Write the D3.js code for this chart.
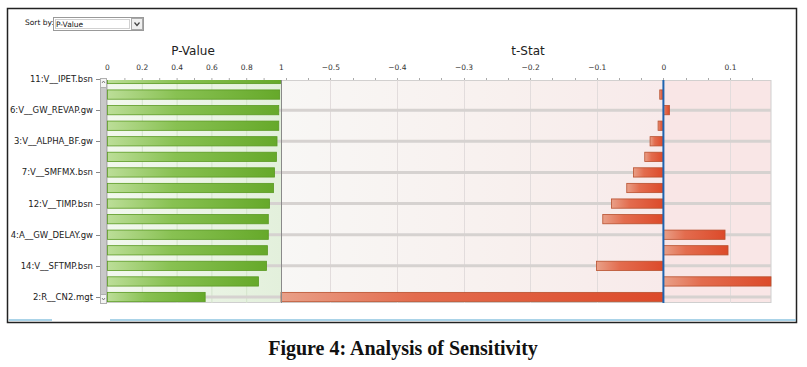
<!DOCTYPE html>
<html>
<head>
<meta charset="utf-8">
<script src="https://cdn.jsdelivr.net/npm/d3@7"></script>
<style>
  body { margin: 0; background: #fff; }
  svg text { font-family: "DejaVu Sans", sans-serif; }
</style>
</head>
<body>
<div id="chart"></div>
<script>
// rows, top to bottom (only every other row carries a label in the original)
var rowLabels = ["11:V__IPET.bsn", "", "6:V__GW_REVAP.gw", "", "3:V__ALPHA_BF.gw", "",
  "7:V__SMFMX.bsn", "", "12:V__TIMP.bsn", "", "4:A__GW_DELAY.gw", "",
  "14:V__SFTMP.bsn", "", "2:R__CN2.mgt"];
var pValues = [1.0, 0.995, 0.99, 0.99, 0.98, 0.977, 0.966, 0.96, 0.937, 0.93, 0.93, 0.925, 0.92, 0.874, 0.567];
var tStats = [0.0, -0.0055, 0.009, -0.008, -0.02, -0.028, -0.045, -0.055, -0.078, -0.091, 0.0925, 0.097, -0.1005, 0.1615, -0.574];
var pTicks = [0, 0.2, 0.4, 0.6, 0.8, 1];
var tTicks = [-0.5, -0.4, -0.3, -0.2, -0.1, 0, 0.1];

var W = 807, H = 367;
var plotTop = 80, plotBottom = 303;

var svg = d3.select("#chart").append("svg")
  .attr("width", W).attr("height", H);

var defs = svg.append("defs");
function grad(id, stops) {
  var g = defs.append("linearGradient").attr("id", id)
    .attr("x1", 0).attr("y1", 0).attr("x2", 1).attr("y2", 0);
  stops.forEach(function(s) {
    g.append("stop").attr("offset", s[0]).attr("stop-color", s[1]);
  });
}
grad("gBar", [[0, "#bcde98"], [0.4, "#88c152"], [1, "#66a92a"]]);
grad("rBar", [[0, "#e9a088"], [0.35, "#e36c4e"], [1, "#dc4a2a"]]);
grad("gBg", [[0, "#f2f8ee"], [1, "#e3f0dc"]]);
grad("tBg", [[0, "#f8f7f5"], [0.6, "#f8f0ee"], [1, "#f8eaea"]]);
defs.append("clipPath").attr("id", "plotClip").append("rect")
  .attr("x", 100).attr("y", plotTop).attr("width", 680).attr("height", plotBottom - plotTop);

// scales
var xP = d3.scaleLinear().domain([0, 1]).range([107, 281]);
var xT = d3.scaleLinear().domain([-0.574, 0.1615]).range([281, 771]);
var y = d3.scaleBand().domain(d3.range(rowLabels.length))
  .range([71.2, 304.8]).paddingInner(0.34).paddingOuter(0.17);
var yc = function(i) { return y(i) + y.bandwidth() / 2; };

// window frame
svg.append("rect").attr("x", 7.5).attr("y", 8.5).attr("width", 789).attr("height", 314)
  .attr("fill", "#fff").attr("stroke", "#222").attr("stroke-width", 1.5);
svg.append("line").attr("x1", 9).attr("x2", 52).attr("y1", 320).attr("y2", 320)
  .attr("stroke", "#8ec4e0").attr("stroke-width", 1.5);
svg.append("line").attr("x1", 110).attr("x2", 796).attr("y1", 320).attr("y2", 320)
  .attr("stroke", "#8ec4e0").attr("stroke-width", 1.5);

// sort by dropdown
svg.append("text").attr("x", 25).attr("y", 25).attr("font-size", 7.5).attr("fill", "#111").text("Sort by:");
svg.append("rect").attr("x", 53.5).attr("y", 17.5).attr("width", 90).attr("height", 13)
  .attr("fill", "#fff").attr("stroke", "#999");
svg.append("rect").attr("x", 55.5).attr("y", 19.5).attr("width", 74).attr("height", 9)
  .attr("fill", "none").attr("stroke", "#666").attr("stroke-dasharray", "1,1").attr("stroke-width", 0.6);
svg.append("text").attr("x", 56).attr("y", 27).attr("font-size", 7.5).attr("fill", "#111").text("P-Value");
svg.append("rect").attr("x", 131.5).attr("y", 18.5).attr("width", 11).attr("height", 11)
  .attr("fill", "#f0f0f0").attr("stroke", "#aaa");
svg.append("path").attr("d", "M134.5,22.5 L137,25.5 L139.5,22.5")
  .attr("fill", "none").attr("stroke", "#444").attr("stroke-width", 1.2);

// titles
svg.append("text").attr("x", 193).attr("y", 55).attr("text-anchor", "middle")
  .attr("font-size", 12).attr("fill", "#222").text("P-Value");
svg.append("text").attr("x", 528).attr("y", 55).attr("text-anchor", "middle")
  .attr("font-size", 12).attr("fill", "#222").text("t-Stat");

// backgrounds
svg.append("rect").attr("x", 107).attr("y", plotTop).attr("width", 174).attr("height", plotBottom - plotTop)
  .attr("fill", "url(#gBg)");
svg.append("rect").attr("x", 281).attr("y", plotTop).attr("width", xT(0) - 281).attr("height", plotBottom - plotTop)
  .attr("fill", "url(#tBg)");
svg.append("rect").attr("x", xT(0)).attr("y", plotTop).attr("width", 771 - xT(0)).attr("height", plotBottom - plotTop)
  .attr("fill", "#f9e6e6");
svg.append("rect").attr("x", 107.5).attr("y", plotTop + 0.5).attr("width", 663.5).attr("height", plotBottom - plotTop - 1)
  .attr("fill", "none").attr("stroke", "#cfcfcf");

// vertical grid
svg.append("g").selectAll("line").data(pTicks.slice(1, -1)).join("line")
  .attr("x1", function(d) { return xP(d) + 0.5; }).attr("x2", function(d) { return xP(d) + 0.5; })
  .attr("y1", plotTop).attr("y2", plotBottom).attr("stroke", "#d4e4cc");
svg.append("g").selectAll("line").data(tTicks.filter(function(d) { return d !== 0; })).join("line")
  .attr("x1", function(d) { return Math.round(xT(d)) + 0.5; }).attr("x2", function(d) { return Math.round(xT(d)) + 0.5; })
  .attr("y1", plotTop).attr("y2", plotBottom).attr("stroke", "#e2dcdc");

// horizontal grid at labelled rows
var labelled = d3.range(rowLabels.length).filter(function(i) { return rowLabels[i] !== ""; });
var plot = svg.append("g").attr("clip-path", "url(#plotClip)");
plot.selectAll(".hgrid").data(labelled).join("line").attr("class", "hgrid")
  .attr("x1", 107).attr("x2", 771)
  .attr("y1", function(i) { return yc(i); }).attr("y2", function(i) { return yc(i); })
  .attr("stroke", "#d6d2d0").attr("stroke-width", 3);

// p-value bars
plot.selectAll(".pbar").data(pValues).join("rect").attr("class", "pbar")
  .attr("x", xP(0) + 0.5)
  .attr("y", function(d, i) { return y(i) + 0.5; })
  .attr("width", function(d) { return xP(d) - xP(0) - 1; })
  .attr("height", y.bandwidth() - 1)
  .attr("fill", "url(#gBar)").attr("stroke", "#5a9a22").attr("stroke-width", 0.8);

// t-stat bars
plot.selectAll(".tbar").data(tStats).join("rect").attr("class", "tbar")
  .attr("x", function(d) { return Math.min(xT(d), xT(0)); })
  .attr("y", function(d, i) { return y(i) + 0.5; })
  .attr("width", function(d) { return Math.abs(xT(d) - xT(0)); })
  .attr("height", y.bandwidth() - 1)
  .attr("fill", "url(#rBar)").attr("stroke", "#b8502e").attr("stroke-width", 0.8);

// separator and zero line
svg.append("line").attr("x1", 281.5).attr("x2", 281.5).attr("y1", plotTop).attr("y2", plotBottom)
  .attr("stroke", "#8a8a8a").attr("stroke-width", 1);
svg.append("line").attr("x1", xT(0)).attr("x2", xT(0)).attr("y1", plotTop).attr("y2", plotBottom)
  .attr("stroke", "#1f64b0").attr("stroke-width", 2);

// top axes
var axP = d3.axisTop(xP).tickValues(pTicks).tickSize(0).tickPadding(10)
  .tickFormat(function(d) { return d3.format("")(d); });
var gP = svg.append("g").attr("transform", "translate(0," + plotTop + ")").call(axP);
var axT = d3.axisTop(xT).tickValues(tTicks).tickSize(0).tickPadding(10)
  .tickFormat(function(d) { return d === 0 ? "0" : d3.format("")(d); });
var gT = svg.append("g").attr("transform", "translate(0," + plotTop + ")").call(axT);
[gP, gT].forEach(function(g) {
  g.select(".domain").remove();
  g.selectAll("text").attr("font-size", 7.5).attr("fill", "#333")
    .style("font-family", "DejaVu Sans, sans-serif");
});
// minor ticks
var pMinor = d3.range(1, 10).map(function(k) { return k / 10; });
svg.append("g").selectAll("line").data(pMinor).join("line")
  .attr("x1", function(d) { return xP(d) + 0.5; }).attr("x2", function(d) { return xP(d) + 0.5; })
  .attr("y1", plotTop - 2).attr("y2", plotTop).attr("stroke", "#aaa");
var tMinor = d3.range(-17, 5).map(function(k) { return k / 30; });
svg.append("g").selectAll("line").data(tMinor).join("line")
  .attr("x1", function(d) { return Math.round(xT(d)) + 0.5; }).attr("x2", function(d) { return Math.round(xT(d)) + 0.5; })
  .attr("y1", plotTop - 2).attr("y2", plotTop).attr("stroke", "#aaa");

// left axis labels
var gY = svg.append("g");
gY.selectAll("text").data(labelled).join("text")
  .attr("x", 93).attr("y", function(i) { return yc(i) + 3; })
  .attr("text-anchor", "end").attr("font-size", 8.5).attr("fill", "#222")
  .text(function(i) { return rowLabels[i]; });
gY.selectAll("line").data(labelled).join("line")
  .attr("x1", 96).attr("x2", 100)
  .attr("y1", function(i) { return Math.round(yc(i)) + 0.5; }).attr("y2", function(i) { return Math.round(yc(i)) + 0.5; })
  .attr("stroke", "#888");

// scroll bar
svg.append("rect").attr("x", 100.5).attr("y", plotTop - 1.5).attr("width", 6).attr("height", plotBottom - plotTop + 2)
  .attr("fill", "#c8c8c8").attr("stroke", "#b0b0b0");
svg.append("rect").attr("x", 100.5).attr("y", plotTop - 1.5).attr("width", 6).attr("height", 9)
  .attr("fill", "#f4f4f4").attr("stroke", "#b0b0b0");
svg.append("rect").attr("x", 100.5).attr("y", plotBottom - 8.5).attr("width", 6).attr("height", 9)
  .attr("fill", "#f4f4f4").attr("stroke", "#b0b0b0");
svg.append("path").attr("d", "M102,83 L103.5,81 L105,83").attr("fill", "none").attr("stroke", "#555").attr("stroke-width", 0.7);
svg.append("path").attr("d", "M102,298 L103.5,300 L105,298").attr("fill", "none").attr("stroke", "#555").attr("stroke-width", 0.7);

// caption
svg.append("text").attr("x", 403).attr("y", 355).attr("text-anchor", "middle")
  .attr("font-size", 20).attr("font-weight", "bold").style("font-family", "Liberation Serif, serif")
  .attr("fill", "#111").text("Figure 4: Analysis of Sensitivity");
</script>
</body>
</html>
